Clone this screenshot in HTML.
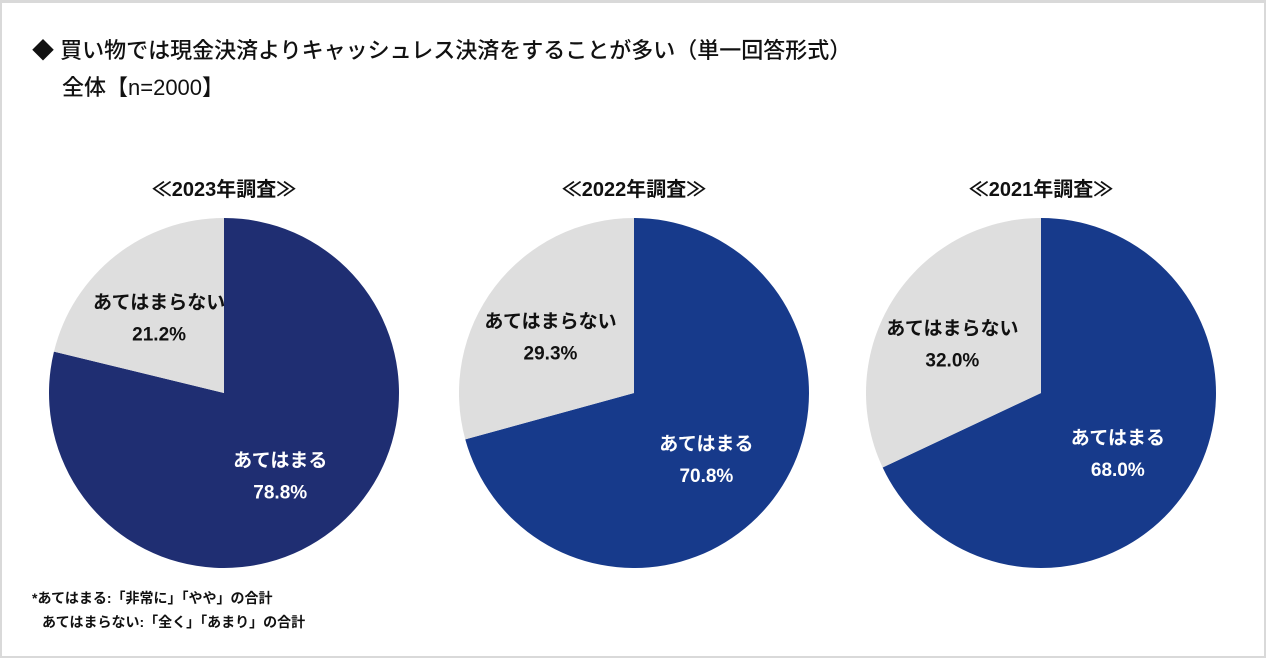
<!DOCTYPE html>
<html><head><meta charset="utf-8"><style>
html,body{margin:0;padding:0;background:#fff}
#wrap{position:relative;width:1266px;height:658px;box-sizing:border-box;border:2px solid #d9d9d9;border-top-width:3px;overflow:hidden;font-family:"Liberation Sans","Noto Sans CJK JP",sans-serif;color:#111}
.t{position:absolute;font-weight:bold;white-space:nowrap}
</style></head><body>
<div id="wrap">
<div class="t" style="left:30px;top:30px;font-size:22px;font-weight:500">◆ 買い物では現金決済よりキャッシュレス決済をすることが多い（単一回答形式）</div>
<div class="t" style="left:60px;top:67px;font-size:22px;font-weight:500">全体【n=2000】</div>
<svg id="pies" width="1266" height="658" style="position:absolute;left:-2px;top:-3px"></svg>
<div class="t" style="left:30px;top:585px;font-size:14px">*あてはまる:「非常に」「やや」の合計</div>
<div class="t" style="left:40px;top:609px;font-size:14px">あてはまらない:「全く」「あまり」の合計</div>
</div>
<script>
const years = ["2023年調査","2022年調査","2021年調査"];
const applies = [78.8, 70.8, 68.0];
const notApplies = [21.2, 29.3, 32.0];
const categories = ["あてはまる","あてはまらない"];
const centersX = [224, 634, 1041];
const cy = 393, R = 175;
const blues = ["#1f2e72","#173a8b","#173a8b"];
const svg = document.getElementById('pies');
const NS = "http://www.w3.org/2000/svg";
function pt(cx, frac, r){const a = frac*2*Math.PI - Math.PI/2; return [cx + r*Math.cos(a), cy + r*Math.sin(a)];}
function arc(cx, f0, f1, color, name){
  const p = document.createElementNS(NS,'path');
  const [x0,y0]=pt(cx,f0,R),[x1,y1]=pt(cx,f1,R);
  const large = (f1-f0)>0.5?1:0;
  p.setAttribute('d',`M${cx},${cy} L${x0},${y0} A${R},${R} 0 ${large} 1 ${x1},${y1} Z`);
  p.setAttribute('fill',color);
  
  
  svg.appendChild(p);
}
function text(x,y,s,fill,size,name){
  const t=document.createElementNS(NS,'text');
  t.setAttribute('x',x);t.setAttribute('y',y);t.setAttribute('text-anchor','middle');
  t.setAttribute('font-size',size);t.setAttribute('font-weight','bold');t.setAttribute('fill',fill);
  t.setAttribute('font-family','"Liberation Sans","Noto Sans CJK JP",sans-serif');
  t.textContent=s;
  
  
  svg.appendChild(t);
}
years.forEach((yr,i)=>{
  const cx = centersX[i];
  const total = applies[i]+notApplies[i];
  const fa = applies[i]/total;
  arc(cx,0,fa,blues[i],'slice-applies-'+i);
  arc(cx,fa,1,'#dedede','slice-not-applies-'+i);
  text(cx,196,'≪'+yr+'≫','#111',20,'pie-title-'+i);
  const [bx,by]=pt(cx,fa/2,R*0.52);
  text(bx,by+2,categories[0],'#fff',19,'label-applies-'+i);
  text(bx,by+34,applies[i].toFixed(1)+'%','#fff',19,'value-applies-'+i);
  const [gx,gy]=pt(cx,fa+(1-fa)/2,R*0.6);
  text(gx,gy-2,categories[1],'#111',19,'label-not-applies-'+i);
  text(gx,gy+30,notApplies[i].toFixed(1)+'%','#111',19,'value-not-applies-'+i);
});
</script>
</body></html>
